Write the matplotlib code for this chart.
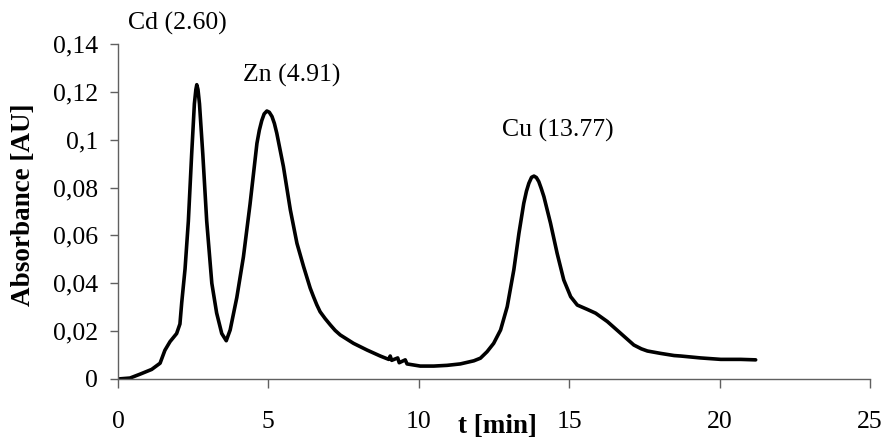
import matplotlib
matplotlib.use("Agg")
import matplotlib.pyplot as plt

# chromatogram trace
time_min = [0.0, 0.4, 0.73, 1.12, 1.4, 1.56, 1.73, 1.95, 2.06, 2.12, 2.23, 2.34,
            2.45, 2.54, 2.59, 2.62, 2.66, 2.71, 2.82, 2.95, 3.12, 3.28, 3.45,
            3.6, 3.73, 3.95, 4.17, 4.39, 4.62, 4.7, 4.78, 4.86, 4.95, 5.03,
            5.12, 5.2, 5.28, 5.5, 5.73, 5.95, 6.17, 6.39, 6.5, 6.61, 6.72,
            6.89, 7.06, 7.22, 7.39, 7.83, 8.28, 8.72, 9.0, 9.05, 9.1, 9.3,
            9.35, 9.55, 9.61, 10.05, 10.5, 10.94, 11.38, 11.83, 12.05, 12.27,
            12.49, 12.72, 12.94, 13.16, 13.33, 13.49, 13.58, 13.66, 13.75,
            13.83, 13.91, 13.99, 14.07, 14.16, 14.38, 14.6, 14.82, 15.05,
            15.27, 15.6, 15.88, 16.27, 16.71, 17.15, 17.4, 17.6, 18.04, 18.49,
            18.71, 19.37, 20.04, 20.7, 21.2]
absorbance = [0.0, 0.0004, 0.002, 0.004, 0.0066, 0.012, 0.0156, 0.019, 0.023,
              0.032, 0.046, 0.066, 0.094, 0.115, 0.121, 0.123, 0.121, 0.115,
              0.094, 0.066, 0.040, 0.0276, 0.019, 0.016, 0.0205, 0.034, 0.051,
              0.073, 0.0985, 0.104, 0.108, 0.1108, 0.112, 0.1115, 0.1097,
              0.1068, 0.1027, 0.0888, 0.0707, 0.0567, 0.047, 0.038, 0.0344,
              0.031, 0.0281, 0.0252, 0.0226, 0.0203, 0.0184, 0.0149, 0.0121,
              0.0096, 0.0082, 0.0096, 0.0078, 0.0088, 0.0068, 0.0080, 0.0063,
              0.0054, 0.0054, 0.0057, 0.0063, 0.0076, 0.0087, 0.0114, 0.0149,
              0.0205, 0.0302, 0.0456, 0.0609, 0.0734, 0.0785, 0.0818, 0.0843,
              0.0848, 0.0842, 0.0825, 0.0797, 0.0762, 0.0651, 0.0525, 0.0414,
              0.0344, 0.0309, 0.0291, 0.0275, 0.024, 0.0191, 0.0142, 0.0126,
              0.0117, 0.0107, 0.0098, 0.0096, 0.0088, 0.0082, 0.0082, 0.008]

peak_labels = ['Cd (2.60)', 'Zn (4.91)', 'Cu (13.77)']
peak_label_x = [0.33, 4.16, 12.77]
peak_label_y = [0.1484, 0.127, 0.104]

x_ticks = [0, 5, 10, 15, 20, 25]
y_ticks = [0, 0.02, 0.04, 0.06, 0.08, 0.1, 0.12, 0.14]
y_tick_labels = ['0', '0,02', '0,04', '0,06', '0,08', '0,1', '0,12', '0,14']

plt.rcParams['font.family'] = ['Liberation Serif', 'DejaVu Serif']

fig = plt.figure(figsize=(8.87, 4.41), dpi=100)
ax = fig.add_axes([0.1330, 0.1406, 0.8478, 0.7596])

ax.plot(time_min, absorbance, color='black', lw=2.6,
        solid_joinstyle='round', solid_capstyle='round')

for txt, x, y in zip(peak_labels, peak_label_x, peak_label_y):
    ax.text(x, y, txt, fontsize=18.5, ha='left', va='center', clip_on=False)

ax.set_xlim(0, 25)
ax.set_ylim(0, 0.14)
ax.set_xticks(x_ticks)
ax.set_yticks(y_ticks)
ax.set_yticklabels(y_tick_labels)

for side in ['top', 'right']:
    ax.spines[side].set_visible(False)
for side in ['left', 'bottom']:
    ax.spines[side].set_color('#606060')
    ax.spines[side].set_linewidth(1.0)

ax.tick_params(axis='x', direction='out', length=6.5, width=1, color='#606060',
               labelsize=18.5, pad=16.5)
ax.tick_params(axis='y', direction='out', length=6, width=1, color='#606060',
               labelsize=18.5, pad=8.5)

ax.set_ylabel('Absorbance [AU]', fontsize=19.5, fontweight='bold')
ax.yaxis.set_label_coords(-0.109, 0.52)
ax.set_xlabel('t [min]', fontsize=19.5, fontweight='bold', va='center')
ax.xaxis.set_label_coords(0.504, -0.143)

fig.savefig('out.png', dpi=100)
